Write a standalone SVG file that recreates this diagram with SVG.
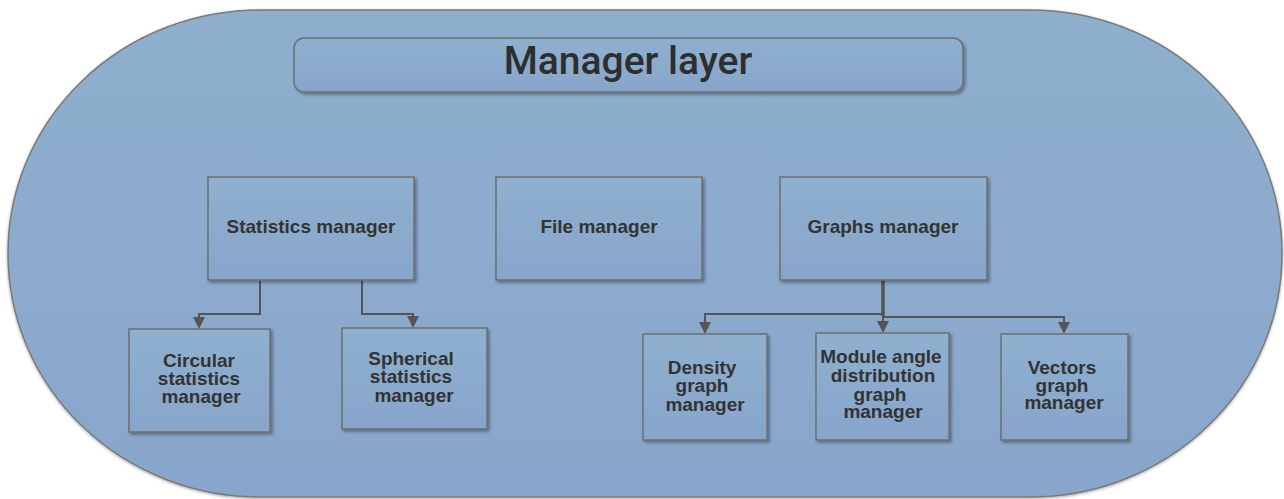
<svg xmlns="http://www.w3.org/2000/svg" width="1284" height="499" viewBox="0 0 1284 499">
  <defs>
    <linearGradient id="gBg" x1="0" y1="0" x2="0" y2="1">
      <stop offset="0" stop-color="#8fafce"/>
      <stop offset="1" stop-color="#88a6cb"/>
    </linearGradient>
    <linearGradient id="gBox" x1="0" y1="0" x2="0" y2="1">
      <stop offset="0" stop-color="#8fb0cf"/>
      <stop offset="1" stop-color="#87a5cb"/>
    </linearGradient>
    <filter id="sh" x="-10%" y="-10%" width="130%" height="130%">
      <feDropShadow dx="2" dy="2" stdDeviation="1.5" flood-color="#000" flood-opacity="0.35"/>
    </filter>
    <filter id="shBig" x="-5%" y="-5%" width="110%" height="110%">
      <feDropShadow dx="0" dy="1" stdDeviation="1.5" flood-color="#000" flood-opacity="0.35"/>
    </filter>
  </defs>
  <style>
    .box { fill: url(#gBox); stroke: #6f6f6f; stroke-width: 1.5; filter: url(#sh); }
    .lbl { font-family: "Liberation Sans", Arial, sans-serif; font-weight: bold; font-size: 19px; fill: #333; text-anchor: middle; }
    .title { font-family: Roboto, "Liberation Sans", sans-serif; font-weight: 500; font-size: 39px; fill: #2e2e2e; text-anchor: middle; }
    .conn { fill: none; stroke: #555; stroke-width: 2; }
    .head { fill: #555; }
  </style>

  <g id="layer">
    <rect x="8" y="10" width="1274" height="487" rx="252" ry="243" fill="url(#gBg)" stroke="#7a7a7a" stroke-width="1.5" filter="url(#shBig)"/>
  </g>

  <g id="title">
    <rect x="294" y="38" width="669" height="54" rx="10" ry="10" class="box"/>
    <text x="628" y="74" class="title">Manager layer</text>
  </g>

  <g id="connectors">
    <path class="conn" d="M260,280 V314 H199 V317"/>
    <path class="head" d="M193,317 H205 L199,329 Z"/>
    <path class="conn" d="M362,280 V314 H413 V316"/>
    <path class="head" d="M407,316 H419 L413,328 Z"/>
    <path class="conn" d="M883,280 V316" style="stroke-width:3.5"/>
    <path class="conn" d="M705,322 V314 H883"/>
    <path class="conn" d="M883,317 H1064 V322"/>
    <path class="conn" d="M883,316 V321"/>
    <path class="head" d="M699,322 H711 L705,334 Z"/>
    <path class="head" d="M877,321 H889 L883,333 Z"/>
    <path class="head" d="M1058,322 H1070 L1064,334 Z"/>
  </g>

  <g id="statistics-manager">
    <rect x="208" y="177" width="206" height="103" class="box"/>
    <text x="311" y="233" class="lbl">Statistics manager</text>
  </g>
  <g id="file-manager">
    <rect x="496" y="177" width="206" height="103" class="box"/>
    <text x="599" y="233" class="lbl">File manager</text>
  </g>
  <g id="graphs-manager">
    <rect x="780" y="177" width="207" height="103" class="box"/>
    <text x="883" y="233" class="lbl">Graphs manager</text>
  </g>
  <g id="circular-statistics-manager">
    <rect x="129" y="329" width="141" height="103" class="box"/>
    <text class="lbl"><tspan x="199" y="367">Circular</tspan><tspan x="199" y="385">statistics</tspan><tspan x="201" y="403">manager</tspan></text>
  </g>
  <g id="spherical-statistics-manager">
    <rect x="342" y="328" width="145" height="101" class="box"/>
    <text class="lbl"><tspan x="411" y="365">Spherical</tspan><tspan x="411" y="383">statistics</tspan><tspan x="414" y="402">manager</tspan></text>
  </g>
  <g id="density-graph-manager">
    <rect x="643" y="334" width="124" height="106" class="box"/>
    <text class="lbl"><tspan x="702" y="374">Density</tspan><tspan x="702" y="392">graph</tspan><tspan x="705" y="411">manager</tspan></text>
  </g>
  <g id="module-angle-distribution-graph-manager">
    <rect x="816" y="333" width="133" height="107" class="box"/>
    <text class="lbl"><tspan x="881" y="363">Module angle</tspan><tspan x="883" y="382">distribution</tspan><tspan x="880" y="401">graph</tspan><tspan x="883" y="418">manager</tspan></text>
  </g>
  <g id="vectors-graph-manager">
    <rect x="1001" y="334" width="127" height="106" class="box"/>
    <text class="lbl"><tspan x="1062" y="374">Vectors</tspan><tspan x="1062" y="392">graph</tspan><tspan x="1064" y="409">manager</tspan></text>
  </g>
</svg>
